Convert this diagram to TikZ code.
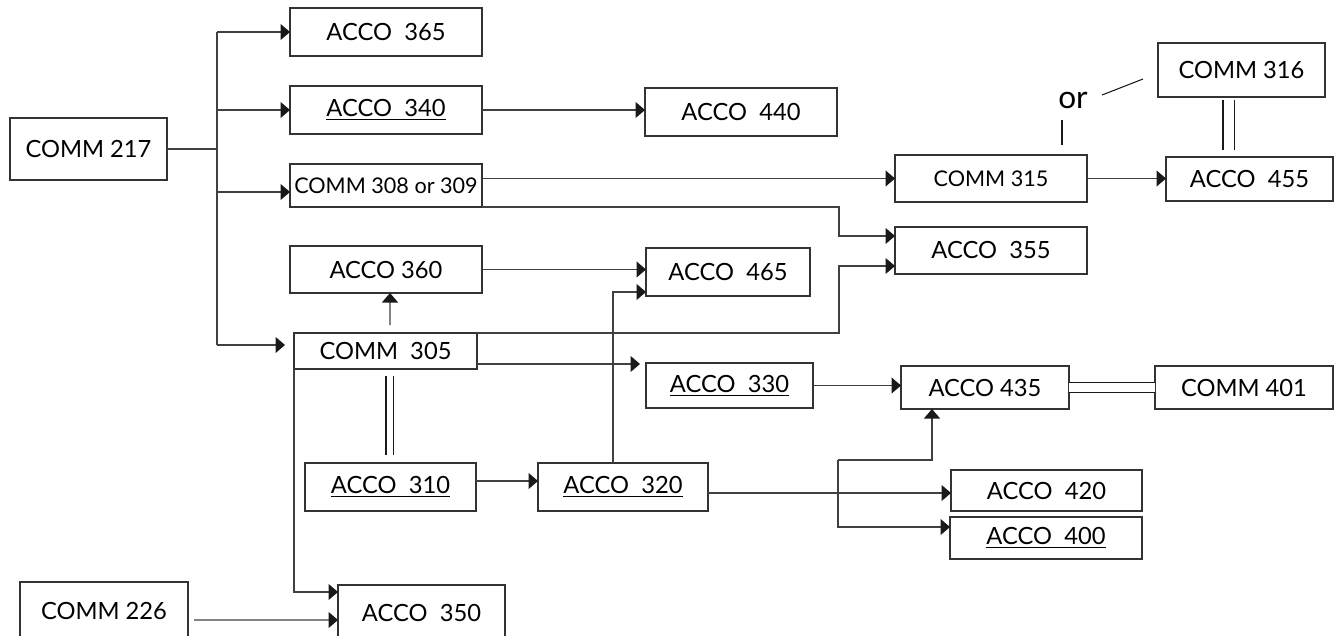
\documentclass[tikz,border=0pt]{standalone}
\usepackage{fontspec}
\setmainfont{Lato}
\usetikzlibrary{arrows.meta,calc}

\tikzset{Cours/.style={draw,black!80,text=black,line width=0.6pt,inner sep=0pt,outer sep=0pt,rectangle,font=\fontsize{13.5}{15}\selectfont}}
\tikzset{Taille/.style 2 args={minimum width=#1*0.02cm,minimum height=#2*0.02cm}}
\tikzset{Petit/.style={font=\fontsize{12.3}{14}\selectfont}}
\tikzset{Fleche/.style={black!75,line width=0.6pt,-{Triangle[length=0.19cm,width=0.32cm,color=black!90]}}}
\tikzset{Lien/.style={black!75,line width=0.6pt}}
\tikzset{Egal/.style={black!90,line width=0.6pt,double,double distance=#1}}

\begin{document}
\begin{tikzpicture}[x=0.02cm,y=-0.02cm]
\useasboundingbox (0,0) rectangle (1334,635);

\node[Cours,Taille={157}{62}] (C217) at (88.5,149) {COMM 217};
\node[Cours,Taille={192}{48}] (A365) at (386,32) {ACCO\ \ 365};
\node[Cours,Taille={192}{48}] (A340) at (386,110) {\underline{ACCO\ \ 340}};
\node[Cours,Petit,Taille={192}{43}] (C308) at (386,185.5) {COMM 308 or 309};
\node[Cours,Taille={192}{48}] (A440) at (741,112) {ACCO\ \ 440};
\node[Cours,Petit,Taille={192}{47}] (C315) at (991,178.5) {COMM 315};
\node[Cours,Taille={167}{44}] (A455) at (1249.5,179) {ACCO\ \ 455};
\node[Cours,line width=1.2pt,Taille={167}{54}] (C316) at (1241.5,70) {COMM 316};
\node[font=\fontsize{18}{20}\selectfont,text=black] (ou) at (1073,100) {or};
\node[Cours,Taille={192}{47}] (A355) at (991,250.5) {ACCO\ \ 355};
\node[Cours,Taille={192}{47}] (A360) at (386,269.5) {ACCO\ 360};
\node[Cours,Taille={164}{48}] (A465) at (728,272) {ACCO\ \ 465};
\node[Cours,Taille={183}{36}] (C305) at (385.5,351) {COMM\ \ 305};
\node[Cours,Taille={167}{45}] (A330) at (729.5,385.5) {\underline{ACCO\ \ 330}};
\node[Cours,Taille={168}{43}] (A435) at (985,387.5) {ACCO\ 435};
\node[Cours,Taille={178}{43}] (C401) at (1244,387.5) {COMM 401};
\node[Cours,Taille={171}{48}] (A310) at (390.5,487) {\underline{ACCO\ \ 310}};
\node[Cours,Taille={170}{48}] (A320) at (623,487) {\underline{ACCO\ \ 320}};
\node[Cours,Taille={191}{41}] (A420) at (1046.5,490.5) {ACCO\ \ 420\hspace{0.35cm}};
\node[Cours,Taille={192}{42}] (A400) at (1046,538) {\underline{ACCO\ \ 400}\hspace{0.35cm}};
\node[Cours,Taille={167}{55}] (A350) at (421.5,612.5) {ACCO\ \ 350\hspace{0.35cm}};
\node[Cours,Taille={168}{58}] (C226) at (104,611) {COMM 226};

% tronc commun
\coordinate (haut) at (217,32);
\coordinate (bas) at (217,345);
\draw[Lien] (haut) -- (bas);
\draw[Lien] (C217.east) -- (C217.east -| haut);
\draw[Fleche] (haut) -- (A365.west);
\draw[Fleche] (haut |- A340.west) -- (A340.west);
\draw[Fleche] (haut |- C308.west) ++(0,6.5) -- ($(C308.west)+(0,6.5)$);
\draw[Fleche] (bas) -- ($(C305.west)+(-9,-6)$);

\draw[Fleche] (A340.east) -- (A340.east -| A440.west);
\draw[Fleche] (C308.east |- C315.west) -- (C315.west);
\draw[Fleche] (C315.east) -- (C315.east -| A455.west);
\draw[Fleche] (C308.south east) -| ($(A355.west)+(-56,-14.5)$) -- ($(A355.west)+(0,-14.5)$);
\draw[Fleche] (C305.north east) -| ($(A355.west)+(-56,15.5)$) -- ($(A355.west)+(0,15.5)$);

% or
\draw[Lien,black!90] ($(C315.north)+(71,-10)$) -- ($(C315.north)+(71,-35)$);
\draw[Lien,black!90] ($(C316.west)+(-56,25)$) -- ($(C316.west)+(-15,9)$);
\draw[Egal=0.2cm] ($(C316.south)+(-13,3)$) -- ($(A455.north)+(-21,-7)$);

\draw[Fleche] (A360.east) -- (A360.east -| A465.west);
\draw[Fleche] ($(C305.north)+(4.5,-8)$) -- ($(A360.south)+(4,0)$);
\draw[Fleche] ($(A320.north)+(-10,0)$) |- ($(A465.west)+(0,20)$);
\draw[Fleche] ($(C305.south east)+(0,-5)$) -- ($(A330.north west)+(-6,1)$);
\draw[Egal=0.12cm] ($(C305.south -| A310.north)+(-1,7)$) -- ($(A310.north)+(-1,-8)$);

\draw[Fleche] (A330.east) -- (A330.east -| A435.west);
\draw[Egal=0.18cm] (A435.east) -- (C401.west);

\draw[Fleche] ($(A310.east)+(0,-6)$) -- ($(A320.west)+(0,-6)$);
\draw[Fleche] ($(A320.east)+(0,6)$) -- ($(A320.east -| A420.west)+(0,6)$);
\coordinate (noeud) at (838,460);
\draw[Fleche] (noeud) -| ($(A435.south west)+(31,0)$);
\draw[Fleche] (noeud) |- ($(A400.west)+(0,-11)$);

\draw[Fleche] (C305.south west) |- ($(A350.west)+(0,-20.5)$);
\draw[Fleche] ($(C226.east)+(6,9)$) -- ($(A350.west)+(0,7.5)$);

\end{tikzpicture}
\end{document}
